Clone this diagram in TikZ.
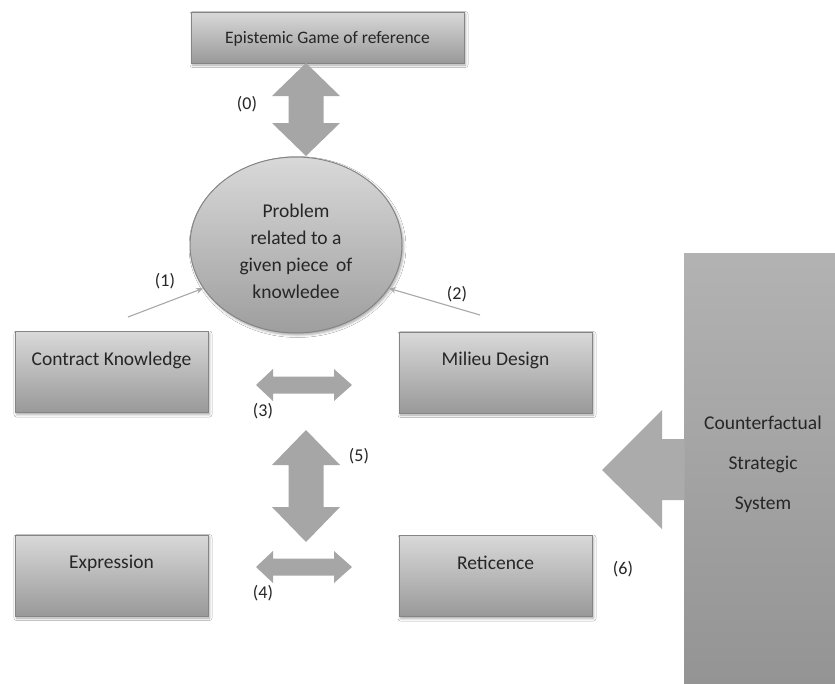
\documentclass[tikz,border=0pt]{standalone}
\usepackage{fontspec}
\setmainfont{Carlito}
\usetikzlibrary{shadows.blur,shapes.geometric,arrows.meta}

\definecolor{txt}{HTML}{262626}
\definecolor{edge}{HTML}{858585}
\definecolor{arrowfill}{HTML}{A6A6A6}
\definecolor{thinline}{HTML}{A8A8A8}

\tikzset{
  x=1pt, y=-1pt,
  softshadow/.style={blur shadow={shadow xshift=1.5pt, shadow yshift=-2pt,
      shadow blur radius=2.5pt, shadow opacity=35}},
  greybox/.style={rectangle, draw=edge, line width=1pt,
      top color=black!15, middle color=black!22, bottom color=black!40,
      softshadow, inner sep=0pt, text=txt, font=\fontsize{19.5}{23}\selectfont},
  lowbox/.style={greybox, minimum width=193pt, minimum height=81pt,
      text height=13pt, text depth=27pt},
  bigarrow/.style={fill=arrowfill, draw=none},
  numlabel/.style={text=txt, font=\fontsize{18}{22}\selectfont, inner sep=0pt},
  thinarrow/.style={draw=thinline, line width=1.1pt, -{Stealth[length=7pt, width=6pt, open]}},
}

\begin{document}
\begin{tikzpicture}
\useasboundingbox[fill=white] (0,0) rectangle (835,683);

% side panel with its own label
\node[rectangle, inner sep=0pt, minimum width=151pt, minimum height=430pt,
      top color=black!30, bottom color=black!42] (cf) at (759.5,468) {};
\node[text=txt, align=center, font=\fontsize{19.5}{40}\selectfont, inner sep=0pt]
  (cftext) at (763,464) {Counterfactual\\Strategic\\System};

% boxes
\node[greybox, minimum width=273pt, minimum height=51pt, text height=12pt, text depth=0pt,
      font=\fontsize{17.5}{21}\selectfont] (epi) at (327.5,37.5) {Epistemic Game of reference};
\node[lowbox] (ck)  at (111.5,372)   {Contract Knowledge};
\node[lowbox] (md)  at (495.5,372.5) {Milieu Design};
\node[lowbox] (ex)  at (111.5,575.5) {Expression};
\node[lowbox] (ret) at (495.5,576)   {Reticence};

% central problem
\node[ellipse, draw=edge, line width=1pt, minimum width=212pt, minimum height=176pt,
      top color=black!15, bottom color=black!38, softshadow, inner sep=0pt] (prob) at (296,245) {};
\node[text=txt, align=center, font=\fontsize{19.5}{27}\selectfont, inner sep=0pt]
  (probtext) at (296,251) {Problem\\related to a\\given piece\ \,of\\knowledee};

% (0) vertical double arrow between reference game and problem
\fill[bigarrow] (306,63) -- (340,96) -- (323.5,96) -- (323.5,123) -- (340,123)
  -- (306,156) -- (272,123) -- (288.5,123) -- (288.5,96) -- (272,96) -- cycle;
% (5) vertical double arrow
\fill[bigarrow] (306,430) -- (340,465) -- (323.5,465) -- (323.5,507) -- (340,507)
  -- (306,542) -- (272,507) -- (288.5,507) -- (288.5,465) -- (272,465) -- cycle;
% (3) and (4) horizontal double arrows
\foreach \yy in {385,567}{
  \fill[bigarrow] (256,\yy) -- (273,\yy-16) -- (273,\yy-8.5) -- (334,\yy-8.5) -- (334,\yy-16)
    -- (352,\yy) -- (334,\yy+16) -- (334,\yy+8.5) -- (273,\yy+8.5) -- (273,\yy+16) -- cycle;
}
% (6) arrow out of the side panel
\fill[bigarrow, fill=black!33] (602,470) -- (662,410) -- (662,439) -- (684.5,439)
  -- (684.5,500) -- (662,500) -- (662,529) -- cycle;

% thin arrows into the problem
\coordinate (s1) at (128,317);
\coordinate (s2) at (480,315);
\draw[thinarrow] (s1) -- (prob.205);
\draw[thinarrow] (s2) -- (prob.335);

% numbers
\node[numlabel] (l0) at (247,104) {(0)};
\node[numlabel] (l1) at (165,281) {(1)};
\node[numlabel] (l2) at (457,294) {(2)};
\node[numlabel] (l3) at (263,411) {(3)};
\node[numlabel] (l4) at (263,593) {(4)};
\node[numlabel] (l5) at (359,456) {(5)};
\node[numlabel] (l6) at (623,569) {(6)};
\end{tikzpicture}
\end{document}
